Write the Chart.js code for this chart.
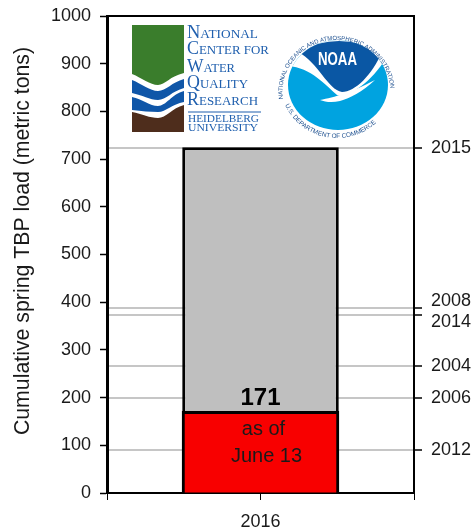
<!DOCTYPE html>
<html>
<head>
<meta charset="utf-8">
<script src="https://cdn.jsdelivr.net/npm/chart.js@4"></script>
<style>
  html, body { margin: 0; padding: 0; background: #fff; }
  #wrap { position: relative; width: 476px; height: 529px; }
  #logos { position: absolute; left: 0; top: 0; pointer-events: none; }
</style>
</head>
<body>
<div id="wrap">
  <canvas id="load-chart" width="476" height="529"></canvas>
  <svg id="logos" width="476" height="529" viewBox="0 0 476 529">
    <!-- NCWQR logo -->
    <path d="M132 25 H184 V73 C170 76 165 85 158 85 C150 85 142 78 132 74 Z" fill="#3a7d2c"/>
    <path d="M132 80 C142 84 150 91 158 91 C166 91 172 82 184 79 V88 C172 91 166 100 158 100 C150 100 142 95 132 93 Z" fill="#0f56a8"/>
    <path d="M132 97 C142 99 150 106 158 106 C166 106 172 94 184 91 V102 C172 104 166 112 158 112 C150 112 142 111 132 110 Z" fill="#0f56a8"/>
    <path d="M132 112 C142 114 150 118 158 118 C166 118 172 108 184 105 V132 H132 Z" fill="#4e2d1c"/>
    <g fill="#1f5fae" font-family="Liberation Serif" font-size="13">
      <text x="187" y="38" textLength="71" lengthAdjust="spacingAndGlyphs"><tspan font-size="18">N</tspan>ATIONAL</text>
      <text x="187" y="54" textLength="82" lengthAdjust="spacingAndGlyphs"><tspan font-size="18">C</tspan>ENTER FOR</text>
      <text x="187" y="72" textLength="48" lengthAdjust="spacingAndGlyphs"><tspan font-size="18">W</tspan>ATER</text>
      <text x="187" y="88" textLength="61" lengthAdjust="spacingAndGlyphs"><tspan font-size="18">Q</tspan>UALITY</text>
      <text x="187" y="105" textLength="71" lengthAdjust="spacingAndGlyphs"><tspan font-size="18">R</tspan>ESEARCH</text>
      <rect x="188" y="111.5" width="73" height="1"/>
      <text x="188" y="122" font-size="10.5" textLength="71" lengthAdjust="spacingAndGlyphs">HEIDELBERG</text>
      <text x="188" y="131" font-size="10.5" textLength="70" lengthAdjust="spacingAndGlyphs">UNIVERSITY</text>
    </g>
    <!-- NOAA logo -->
    <defs>
      <path id="ring-top" d="M283 99 A54 52 0 1 1 390 99 L392 110"/>
      <path id="ring-bottom" d="M285 105 A57 56 0 0 0 389 105"/>
      <clipPath id="noaa-disc"><ellipse cx="338" cy="85" rx="50" ry="45"/></clipPath>
    </defs>
    <ellipse cx="338" cy="85" rx="50" ry="45" fill="#00a3e0"/>
    <g clip-path="url(#noaa-disc)">
      <path d="M285 66 C310 66 325 85 337 95 C345 99 370 85 386 58 L392 30 L285 30 Z" fill="#fff"/>
      <path d="M320 100 C335 97 350 93 375 80 C362 92 350 98 340 101 C332 103 325 102 320 100 Z" fill="#fff"/>
      <path d="M298 52 Q338 30 382 52 C372 75 355 92 342 92 C328 90 318 62 298 52 Z" fill="#0a57a4"/>
    </g>
    <text x="318" y="65" textLength="39" lengthAdjust="spacingAndGlyphs" font-family="Liberation Sans" font-weight="bold" font-size="18" fill="#fff">NOAA</text>
    <g fill="#1c4f8f" font-family="Liberation Sans" font-size="6">
      <text><textPath href="#ring-top">NATIONAL OCEANIC AND ATMOSPHERIC ADMINISTRATION</textPath></text>
      <text font-size="6.4"><textPath href="#ring-bottom">U.S. DEPARTMENT OF COMMERCE</textPath></text>
    </g>
  </svg>
</div>
<script>
const categories = ['2016'];
const loadToDate = [171];
const remainingToMax = [554];
const yearLoads = [723, 388, 374, 266, 199, 90];
const yearLabels = ['2015', ['2008', ''], ['', '2014'], '2004', '2006', '2012'];
const leftTicks = [0, 100, 200, 300, 400, 500, 600, 700, 800, 900, 1000];
const axisTitle = 'Cumulative spring TBP load (metric tons)';
const barNote = ['as of', 'June 13'];

const FONT = '"Liberation Sans", Arial, sans-serif';
const INK = '#1a1a1a';

// frame top, the axis title, the tick under the bar, the value above the red bar and the note inside it
const barText = {
  id: 'barText',
  afterDatasetsDraw(chart) {
    const { ctx, scales, chartArea } = chart;
    const x = scales.x.getPixelForValue(0);
    const top = scales.y.getPixelForValue(loadToDate[0]);
    ctx.save();
    ctx.strokeStyle = '#000';
    ctx.lineWidth = 2;
    ctx.beginPath();
    ctx.moveTo(chartArea.left, chartArea.top);
    ctx.lineTo(chartArea.right, chartArea.top);
    ctx.stroke();
    ctx.lineWidth = 1;
    ctx.beginPath();
    ctx.moveTo(x, chartArea.bottom);
    ctx.lineTo(x, chartArea.bottom + 7);
    ctx.stroke();

    ctx.textAlign = 'center';
    ctx.fillStyle = '#000';
    ctx.font = `bold 24px ${FONT}`;
    ctx.textBaseline = 'alphabetic';
    ctx.fillText(loadToDate[0], x, top - 6);
    ctx.fillStyle = INK;
    ctx.font = `20px ${FONT}`;
    ctx.textBaseline = 'middle';
    barNote.forEach((line, i) => ctx.fillText(line, x + 3 + i * 3, top + 18 + i * 27));

    // sits higher than the plot centre in the original, so not the scale's own title
    ctx.translate(28.5, 241);
    ctx.rotate(-Math.PI / 2);
    ctx.font = `21.3px ${FONT}`;
    ctx.textBaseline = 'alphabetic';
    ctx.fillText(axisTitle, 0, 0);
    ctx.restore();
  },
};

const noEndPadding = scale => {
  scale.paddingTop = 0;
  scale.paddingBottom = 0;
};

new Chart(document.getElementById('load-chart').getContext('2d'), {
  type: 'bar',
  plugins: [barText],
  data: {
    labels: categories,
    datasets: [
      {
        data: loadToDate,
        backgroundColor: '#f80000',
        borderColor: '#000',
        borderWidth: { top: 3, left: 3, right: 3, bottom: 0 },
        borderSkipped: false,
        inflateAmount: 0.5,
        barPercentage: 1,
        categoryPercentage: 0.51,
      },
      {
        data: remainingToMax,
        backgroundColor: '#bfbfbf',
        borderColor: '#000',
        borderWidth: { top: 3, left: 3, right: 3, bottom: 0 },
        borderSkipped: false,
        barPercentage: 1,
        categoryPercentage: 0.51,
      },
    ],
  },
  options: {
    responsive: false,
    animation: false,
    layout: { padding: { top: 16 } },
    plugins: {
      legend: { display: false },
      tooltip: { enabled: false },
    },
    scales: {
      x: {
        stacked: true,
        border: { color: '#000', width: 2 },
        grid: {
          offset: true,
          drawOnChartArea: false,
          tickLength: 7,
          tickColor: '#000',
          tickWidth: 1,
        },
        ticks: { color: INK, padding: 11, font: { family: FONT, size: 18 } },
        afterFit: scale => { scale.height = 36; },
      },
      y: {
        stacked: true,
        min: 0,
        max: 1000,
        border: { color: '#000', width: 3 },
        grid: { drawOnChartArea: false, tickLength: 7, tickColor: '#000', tickWidth: 1.5 },
        afterBuildTicks: scale => { scale.ticks = leftTicks.map(value => ({ value })); },
        ticks: {
          color: INK,
          padding: 9,
          callback: value => String(value),
          font: { family: FONT, size: 18 },
        },
        afterFit: scale => {
          scale.width = 107;
          noEndPadding(scale);
        },
      },
      // one gray line per past year, with the year as its tick label
      years: {
        position: 'right',
        min: 0,
        max: 1000,
        border: { color: '#000', width: 2 },
        grid: {
          color: '#c6c6c6',
          lineWidth: 2,
          tickLength: 8,
          tickColor: '#000',
          tickWidth: 1.5,
        },
        afterBuildTicks: scale => { scale.ticks = yearLoads.map(value => ({ value })); },
        ticks: {
          color: INK,
          padding: 9,
          autoSkip: false,
          callback: (value, i) => yearLabels[i],
          font: { family: FONT, size: 18, lineHeight: 0.8 },
        },
        afterFit: scale => {
          scale.width = 62;
          noEndPadding(scale);
        },
      },
    },
  },
});
</script>
</body>
</html>
